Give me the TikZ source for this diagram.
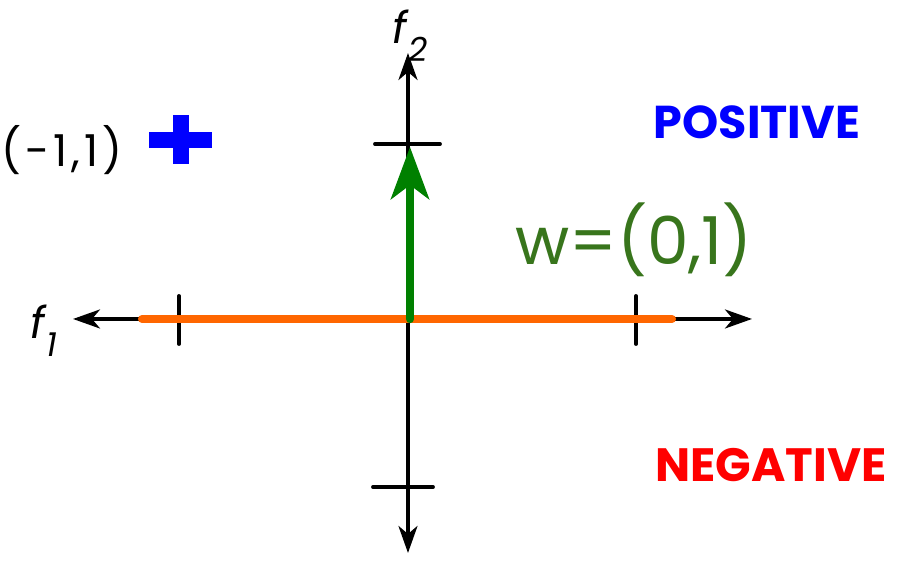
\documentclass[tikz,border=0pt]{standalone}
\usepackage{fontspec}
\setmainfont{Poppins}
\usetikzlibrary{arrows.meta,calc}
\usepackage{tkz-euclide}
\definecolor{LineClr}{rgb}{1,0.4,0}
\definecolor{VecClr}{rgb}{0,0.5,0}
\definecolor{WeightClr}{rgb}{0.22,0.46,0.11}
\newcommand\fsub[1]{\textit{f}\raisebox{-5pt}{\fontsize{9.5}{10}\selectfont\itshape #1}}

\begin{document}
\begin{tikzpicture}[>={Stealth[length=0.27cm,width=0.19cm,inset=0.08cm]}]
\useasboundingbox (-4.08,-2.45) rectangle (4.94,3.19);
\tkzSetUpLine[line width=1pt,color=black]

\tkzDefPoints{0/0/O,-3.35/0/x,3.44/0/x',0/2.66/y,0/-2.34/y'}
\tkzDefPoints{-2.66/0/a,2.64/0/a',0.02/0/w,0.02/1.72/w'}
\tkzDefPoints{-2.29/0.23/t1,-2.29/-0.25/t1',2.28/0.23/t2,2.28/-0.25/t2'}
\tkzDefPoints{-0.33/1.75/t3,0.32/1.75/t3',-0.35/-1.68/t4,0.25/-1.68/t4'}
\tkzDefPoint(-2.27,1.79){p}

% axes and ticks
\tkzDrawSegments[line width=1pt,<->](x,x' y,y')
\tkzDrawSegments[line width=1.1pt](t1,t1' t2,t2' t3,t3' t4,t4')

% decision line
\tkzDrawSegment[color=LineClr,line width=2.3pt](a,a')

% weight vector
\tkzDrawSegment[color=VecClr,line width=2.4pt,-{Stealth[length=0.52cm,width=0.38cm,inset=0.14cm]}](w,w')

% the + sample
\fill[blue] ($(p)+(-0.315,-0.08)$) rectangle ($(p)+(0.315,0.08)$);
\fill[blue] ($(p)+(-0.08,-0.245)$) rectangle ($(p)+(0.08,0.245)$);

\node[font=\fontsize{12.5}{13}\selectfont] (f2) at (0.02,2.83) {\fsub{2}};
\node[font=\fontsize{12.5}{13}\selectfont] (f1) at (-3.64,-0.12) {\fsub{1}};
\node[font=\fontsize{12.5}{13}\selectfont\addfontfeatures{LetterSpace=9}] (sample) at (-3.46,1.69) {(-1,1)};
\node[font=\fontsize{18.8}{20}\selectfont,text=WeightClr] (weight) at (2.26,0.79) {w=(0,1)};
\node[font=\fontsize{13.1}{15}\selectfont\bfseries,text=blue] (pos) at (3.49,1.97) {POSITIVE};
\node[font=\fontsize{13.3}{15}\selectfont\bfseries,text=red] (neg) at (3.63,-1.46) {NEGATIVE};

\end{tikzpicture}
\end{document}
